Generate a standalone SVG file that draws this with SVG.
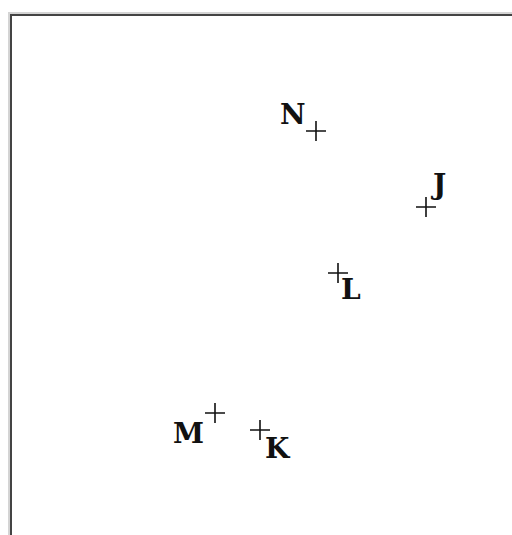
<svg xmlns="http://www.w3.org/2000/svg" width="512" height="535" viewBox="0 0 512 535">
<style>
.lbl{font-family:"DejaVu Serif","Liberation Serif",serif;font-weight:bold;font-size:28px;fill:#111}
.cr{stroke:#111;stroke-width:1.6;fill:none}
</style>
<defs>
<path id="plus" d="M-10,0H10M0,-10V10" class="cr"/>
</defs>
<rect x="0" y="0" width="512" height="535" fill="#fff"/>
<path d="M9,535V13H512" fill="none" stroke="#d4d4d4" stroke-width="2"/>
<path d="M11,535V15H512" fill="none" stroke="#444" stroke-width="2"/>
<g id="connectors"></g>
<g id="N"><use href="#plus" x="316" y="131"/><text class="lbl" x="280" y="124">N</text></g>
<g id="J"><use href="#plus" x="426" y="207"/><text class="lbl" x="433" y="194">J</text></g>
<g id="L"><use href="#plus" x="338" y="273"/><text class="lbl" x="341" y="299">L</text></g>
<g id="M"><use href="#plus" x="215" y="413"/><text class="lbl" x="173" y="443">M</text></g>
<g id="K"><use href="#plus" x="260" y="430"/><text class="lbl" x="265" y="458">K</text></g>
</svg>
